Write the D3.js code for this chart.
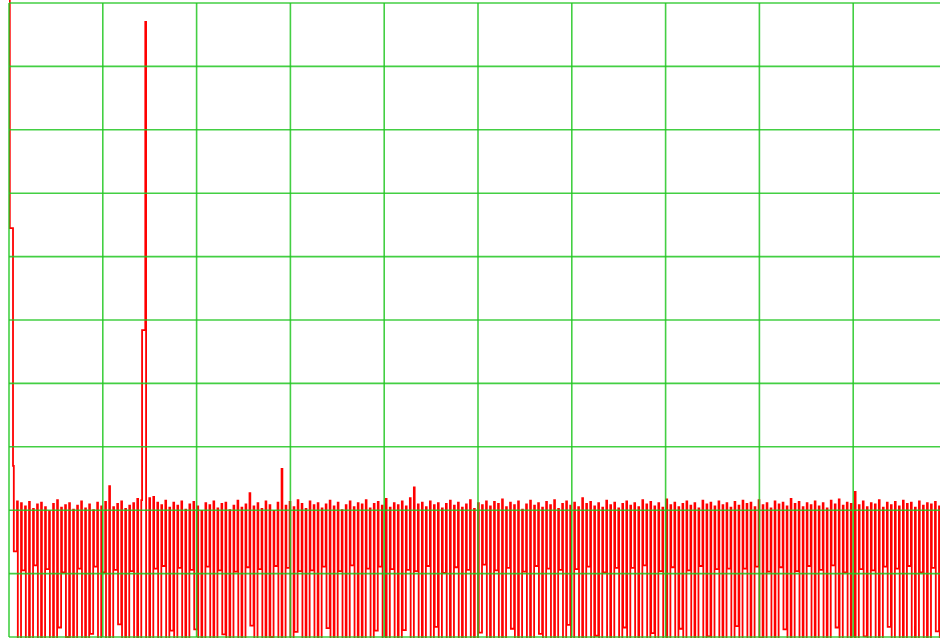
<!DOCTYPE html>
<html>
<head>
<meta charset="utf-8">
<script src="https://cdn.jsdelivr.net/npm/d3@7/dist/d3.min.js"></script>
<style>
  html, body { margin: 0; padding: 0; background: #ffffff; }
  svg { display: block; }
</style>
</head>
<body>
<script>
// Spectrum levels in dB per analysis bin pair: a narrow "high" bin then a wider "low" bin
const highs = [
  5, -73,
  -78.6,-78.9,-79.4,-78.7,-79.8,-79.1,-78.8,-79.5,-80.2,-79.0,-78.4,-79.6,-79.2,-78.9,-79.9,-79.3,-78.6,-79.7,
  -79.1,-80.0,-78.8,-79.4,-78.7,-76.2,-79.5,-79.0,-78.6,-79.8,-79.3,-78.9,-78.2,-78.4,-3.0,-78.1,-77.9,-78.8,-79.2,-78.5,
  -79.6,-78.8,-79.3,-78.6,-79.9,-79.1,-78.7,-79.4,-80.1,-78.9,-79.2,-78.6,-79.7,-79.0,-78.8,-80.0,-79.3,-78.5,-79.6,-79.1,
  -77.3,-79.4,-78.9,-79.8,-78.6,-79.2,-80.1,-78.8,-73.5,-79.3,-78.7,-79.5,-78.4,-79.0,-79.8,-78.6,-79.2,-78.9,-79.7,-79.1,
  -78.5,-79.4,-78.8,-80.0,-79.2,-78.6,-79.5,-78.9,-79.1,-78.4,-79.7,-79.0,-78.7,-79.3,-78.2,-79.6,-78.9,-79.2,-78.6,-79.4,
  -78.1,-76.4,-79.1,-78.8,-79.5,-78.6,-79.2,-78.9,-79.7,-79.0,-78.5,-79.3,-78.8,-79.6,-79.1,-78.4,-79.8,-78.9,-79.2,-78.6,
  -79.4,-78.7,-79.0,-78.3,-79.5,-78.8,-79.2,-78.6,-79.9,-79.1,-78.5,-79.3,-78.9,-79.6,-78.7,-79.2,-78.4,-79.8,-79.0,-78.6,
  -79.3,-78.8,-79.5,-78.1,-79.0,-78.7,-79.4,-78.9,-79.6,-78.5,-79.2,-78.8,-79.7,-79.0,-78.6,-79.3,-78.9,-79.5,-78.4,-79.1,
  -78.7,-79.4,-78.9,-79.6,-78.3,-79.2,-78.8,-79.5,-79.0,-78.6,-79.3,-78.9,-79.7,-78.5,-79.1,-78.8,-79.4,-78.6,-79.2,-78.9,
  -79.6,-78.7,-79.3,-78.5,-79.0,-78.8,-79.5,-78.4,-79.2,-78.9,-79.7,-78.6,-79.1,-78.8,-79.4,-78.2,-79.0,-78.7,-79.5,-78.9,
  -79.2,-78.6,-79.4,-78.9,-79.7,-78.5,-79.1,-78.3,-79.3,-78.8,-79.0,-77.1,-79.2,-78.6,-79.5,-78.9,-79.1,-78.4,-79.6,-78.8,
  -79.2,-78.7,-79.4,-78.5,-79.0,-78.8,-79.6,-78.6,-79.3,-78.9,-79.1,-78.7,-79.4,-78.8
];
const lows = [
  -35.5, -86.5,
  -104,-89.5,-102,-106,-88.7,-105,-101,-89.3,-103,-107,-98.5,-89.8,-100,-106,-102,-89.2,-105,-103,
  -99.5,-88.9,-104,-89.8,-107,-101,-89.4,-98,-105,-106,-89.6,-102,-104,-51.6,-105,-103,-89.2,-100.5,-88.8,-104,
  -99,-107,-89.1,-102,-105,-89.4,-98.8,-106,-104,-88.9,-101,-107,-89.5,-99.6,-103,-105,-89.7,-102,-106,-89.0,
  -98.2,-104,-89.3,-103,-107,-100,-88.8,-102,-106,-89.1,-104,-99.2,-89.6,-107,-105,-89.5,-101,-106,-88.9,-98.6,
  -103,-105,-89.6,-107,-102,-88.7,-100.4,-106,-103,-89.2,-105,-99,-88.9,-104,-102,-89.3,-106,-103,-98.9,-89.4,
  -104,-89.6,-107,-101,-88.8,-106,-98.4,-104,-89.9,-105,-107,-89.0,-103,-106,-89.4,-102,-105,-99.3,-88.6,-104,
  -103,-89.5,-106,-101,-89.1,-98.7,-107,-104,-89.7,-102,-106,-88.8,-99.5,-105,-89.2,-107,-104,-89.4,-106,-98.1,
  -103,-89.3,-105,-107,-88.9,-104,-99.8,-106,-89.8,-103,-105,-89.1,-107,-98.5,-104,-89.1,-106,-102,-88.7,-103,
  -99.4,-107,-89.6,-104,-106,-89.0,-103,-98.7,-105,-89.5,-107,-102,-88.8,-106,-99.9,-103,-89.3,-105,-107,-89.2,
  -104,-98.3,-106,-89.2,-103,-105,-88.9,-100.2,-104,-89.7,-106,-102,-89.0,-98.8,-107,-103,-89.6,-104,-106,-88.8,
  -105,-102,-89.4,-107,-103,-88.7,-98.5,-106,-89.8,-105,-101,-107,-89.3,-99.9,-104,-89.5,-106,-102,-88.9,-98.4,
  -107,-89.2,-103,-104,-88.8,-100.6,-105,-89.8,-107,-102,-89.1,-99.1,-106,-89.1
];
const gridDivisionsX = [0,1,2,3,4,5,6,7,8,9,10];
const gridLevelsDb = [0,-10,-20,-30,-40,-50,-60,-70,-80,-90,-100];

const W = 940, H = 639;
const plotLeft = 9, plotTop = 3, plotBottom = 637, plotRightFull = 947;
const highFraction = 0.2;

const svg = d3.select("body").append("svg").attr("width", W).attr("height", H);

const nPulses = highs.length;
const x = d3.scaleLinear().domain([0, nPulses]).range([plotLeft, plotRightFull]);
const gx = d3.scaleLinear().domain([0, 10]).range([plotLeft, plotRightFull]);
const y = d3.scaleLinear().domain([-100, 0]).range([plotBottom, plotTop]);

svg.append("defs").append("clipPath").attr("id", "plot")
  .append("rect").attr("x", plotLeft).attr("y", 0).attr("width", W - plotLeft).attr("height", plotBottom + 1);

// step points: narrow high bin, then wider low bin, for each pair
const pts = [];
highs.forEach((h, i) => {
  pts.push([i, h]);
  pts.push([i + highFraction, lows[i]]);
});
pts.push([nPulses, lows[nPulses - 1]]);

const line = d3.line()
  .x(d => x(d[0]))
  .y(d => y(d[1]))
  .curve(d3.curveStepAfter);

svg.append("path")
  .attr("clip-path", "url(#plot)")
  .attr("d", line(pts))
  .attr("fill", "none")
  .attr("stroke", "#ff0000")
  .attr("stroke-width", 1.8);

const grid = svg.append("g").attr("stroke", "#22c722").attr("stroke-width", 1.6).attr("stroke-opacity", 0.85);
grid.selectAll("line.h").data(gridLevelsDb).join("line")
  .attr("class", "h")
  .attr("x1", plotLeft).attr("x2", W)
  .attr("y1", d => y(d)).attr("y2", d => y(d));
grid.selectAll("line.v").data(gridDivisionsX).join("line")
  .attr("class", "v")
  .attr("x1", d => gx(d)).attr("x2", d => gx(d))
  .attr("y1", plotTop).attr("y2", plotBottom);
</script>
</body>
</html>
